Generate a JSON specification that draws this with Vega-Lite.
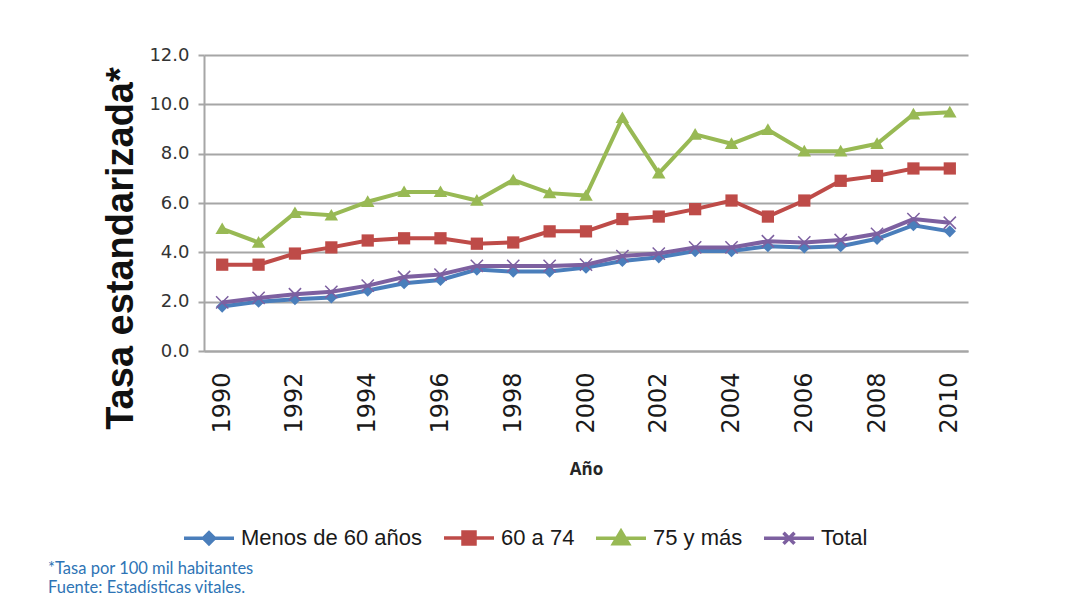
{
  "$schema": "https://vega.github.io/schema/vega-lite/v6.json",
  "autosize": "none",
  "padding": {"left": 204, "top": 55, "right": 111, "bottom": 249},
  "width": 764,
  "height": 296,
  "background": "white",
  "config": {"view": {"stroke": null}},
  "title": {
    "text": ["*Tasa por 100 mil habitantes", "Fuente: Estadísticas vitales."],
    "orient": "bottom",
    "anchor": "start",
    "frame": "group",
    "dx": -156,
    "offset": 10,
    "font": "Lato",
    "fontSize": 16.5,
    "fontWeight": "normal",
    "color": "#2E74B5",
    "lineHeight": 19
  },
  "data": {
    "values": [
      {"year": 1990, "series": "Menos de 60 años", "value": 1.8},
      {"year": 1991, "series": "Menos de 60 años", "value": 2.0},
      {"year": 1992, "series": "Menos de 60 años", "value": 2.1},
      {"year": 1993, "series": "Menos de 60 años", "value": 2.17},
      {"year": 1994, "series": "Menos de 60 años", "value": 2.45},
      {"year": 1995, "series": "Menos de 60 años", "value": 2.75},
      {"year": 1996, "series": "Menos de 60 años", "value": 2.88},
      {"year": 1997, "series": "Menos de 60 años", "value": 3.3},
      {"year": 1998, "series": "Menos de 60 años", "value": 3.22},
      {"year": 1999, "series": "Menos de 60 años", "value": 3.22},
      {"year": 2000, "series": "Menos de 60 años", "value": 3.38},
      {"year": 2001, "series": "Menos de 60 años", "value": 3.65},
      {"year": 2002, "series": "Menos de 60 años", "value": 3.8},
      {"year": 2003, "series": "Menos de 60 años", "value": 4.05},
      {"year": 2004, "series": "Menos de 60 años", "value": 4.05},
      {"year": 2005, "series": "Menos de 60 años", "value": 4.25},
      {"year": 2006, "series": "Menos de 60 años", "value": 4.2},
      {"year": 2007, "series": "Menos de 60 años", "value": 4.25},
      {"year": 2008, "series": "Menos de 60 años", "value": 4.55},
      {"year": 2009, "series": "Menos de 60 años", "value": 5.1},
      {"year": 2010, "series": "Menos de 60 años", "value": 4.85},
      {"year": 1990, "series": "60 a 74", "value": 3.5},
      {"year": 1991, "series": "60 a 74", "value": 3.5},
      {"year": 1992, "series": "60 a 74", "value": 3.95},
      {"year": 1993, "series": "60 a 74", "value": 4.2},
      {"year": 1994, "series": "60 a 74", "value": 4.48},
      {"year": 1995, "series": "60 a 74", "value": 4.57},
      {"year": 1996, "series": "60 a 74", "value": 4.57},
      {"year": 1997, "series": "60 a 74", "value": 4.35},
      {"year": 1998, "series": "60 a 74", "value": 4.4},
      {"year": 1999, "series": "60 a 74", "value": 4.85},
      {"year": 2000, "series": "60 a 74", "value": 4.85},
      {"year": 2001, "series": "60 a 74", "value": 5.35},
      {"year": 2002, "series": "60 a 74", "value": 5.45},
      {"year": 2003, "series": "60 a 74", "value": 5.75},
      {"year": 2004, "series": "60 a 74", "value": 6.1},
      {"year": 2005, "series": "60 a 74", "value": 5.45},
      {"year": 2006, "series": "60 a 74", "value": 6.1},
      {"year": 2007, "series": "60 a 74", "value": 6.9},
      {"year": 2008, "series": "60 a 74", "value": 7.1},
      {"year": 2009, "series": "60 a 74", "value": 7.4},
      {"year": 2010, "series": "60 a 74", "value": 7.4},
      {"year": 1990, "series": "75 y más", "value": 4.95},
      {"year": 1991, "series": "75 y más", "value": 4.4},
      {"year": 1992, "series": "75 y más", "value": 5.6},
      {"year": 1993, "series": "75 y más", "value": 5.5},
      {"year": 1994, "series": "75 y más", "value": 6.05},
      {"year": 1995, "series": "75 y más", "value": 6.45},
      {"year": 1996, "series": "75 y más", "value": 6.45},
      {"year": 1997, "series": "75 y más", "value": 6.1},
      {"year": 1998, "series": "75 y más", "value": 6.93},
      {"year": 1999, "series": "75 y más", "value": 6.4},
      {"year": 2000, "series": "75 y más", "value": 6.3},
      {"year": 2001, "series": "75 y más", "value": 9.45},
      {"year": 2002, "series": "75 y más", "value": 7.2},
      {"year": 2003, "series": "75 y más", "value": 8.78},
      {"year": 2004, "series": "75 y más", "value": 8.4},
      {"year": 2005, "series": "75 y más", "value": 8.97},
      {"year": 2006, "series": "75 y más", "value": 8.1},
      {"year": 2007, "series": "75 y más", "value": 8.1},
      {"year": 2008, "series": "75 y más", "value": 8.4},
      {"year": 2009, "series": "75 y más", "value": 9.6},
      {"year": 2010, "series": "75 y más", "value": 9.68},
      {"year": 1990, "series": "Total", "value": 1.97},
      {"year": 1991, "series": "Total", "value": 2.15},
      {"year": 1992, "series": "Total", "value": 2.3},
      {"year": 1993, "series": "Total", "value": 2.4},
      {"year": 1994, "series": "Total", "value": 2.65},
      {"year": 1995, "series": "Total", "value": 3.0},
      {"year": 1996, "series": "Total", "value": 3.1},
      {"year": 1997, "series": "Total", "value": 3.45},
      {"year": 1998, "series": "Total", "value": 3.45},
      {"year": 1999, "series": "Total", "value": 3.45},
      {"year": 2000, "series": "Total", "value": 3.5},
      {"year": 2001, "series": "Total", "value": 3.85},
      {"year": 2002, "series": "Total", "value": 3.95},
      {"year": 2003, "series": "Total", "value": 4.2},
      {"year": 2004, "series": "Total", "value": 4.2},
      {"year": 2005, "series": "Total", "value": 4.45},
      {"year": 2006, "series": "Total", "value": 4.4},
      {"year": 2007, "series": "Total", "value": 4.5},
      {"year": 2008, "series": "Total", "value": 4.75},
      {"year": 2009, "series": "Total", "value": 5.35},
      {"year": 2010, "series": "Total", "value": 5.2}
    ]
  },
  "encoding": {
    "x": {
      "field": "year",
      "type": "ordinal",
      "scale": {"type": "point", "padding": 0.5},
      "axis": {
        "title": "Año",
        "titleFont": "Open Sans",
        "titleFontSize": 17,
        "titleFontWeight": "bold",
        "titleColor": "#262626",
        "titleY": 118,
        "titleBaseline": "middle",
        "values": [1990, 1992, 1994, 1996, 1998, 2000, 2002, 2004, 2006, 2008, 2010],
        "labelAngle": -90,
        "labelFont": "DejaVu Sans",
        "labelFontSize": 24,
        "labelColor": "#1a1a1a",
        "labelPadding": 21,
        "ticks": false,
        "grid": false,
        "domainColor": "#a6a6a6",
        "domainWidth": 2
      }
    },
    "y": {
      "field": "value",
      "type": "quantitative",
      "scale": {"domain": [0, 12], "nice": false},
      "axis": {
        "title": "Tasa estandarizada*",
        "titleFont": "Liberation Sans",
        "titleFontSize": 38,
        "titleFontWeight": "bold",
        "titleColor": "#111111",
        "titleAngle": -90,
        "titleX": -72,
        "titleY": 193,
        "titleBaseline": "alphabetic",
        "titleAlign": "center",
        "values": [0, 2, 4, 6, 8, 10, 12],
        "format": ".1f",
        "labelFont": "DejaVu Sans",
        "labelFontSize": 18,
        "labelColor": "#333333",
        "labelPadding": 9,
        "tickSize": 6,
        "tickColor": "#a6a6a6",
        "tickWidth": 2,
        "gridColor": "#a6a6a6",
        "gridWidth": 2,
        "domainColor": "#a6a6a6",
        "domainWidth": 2
      }
    },
    "color": {
      "field": "series",
      "type": "nominal",
      "sort": ["Menos de 60 años", "60 a 74", "75 y más", "Total"],
      "scale": {
        "domain": ["Menos de 60 años", "60 a 74", "75 y más", "Total"],
        "range": ["#4A7EBB", "#BE4B48", "#98B954", "#7D60A0"]
      },
      "legend": {
        "title": null,
        "orient": "none",
        "direction": "horizontal",
        "columns": 4,
        "legendX": -22,
        "legendY": 456,
        "padding": 0,
        "symbolSize": 2500,
        "symbolStrokeWidth": 3.5,
        "labelFont": "Liberation Sans",
        "labelFontSize": 22,
        "labelColor": "#1a1a1a",
        "labelOffset": 5,
        "labelLimit": 300,
        "columnPadding": 14
      }
    }
  },
  "layer": [
    {
      "transform": [{"filter": "datum.series !== 'Total'"}],
      "mark": {"type": "line", "strokeWidth": 4}
    },
    {
      "transform": [{"filter": "datum.series === 'Menos de 60 años'"}],
      "mark": {"type": "point", "filled": true, "size": 150, "opacity": 1, "shape": "M-1,0L0,-1L1,0L0,1Z"}
    },
    {
      "transform": [{"filter": "datum.series === '60 a 74'"}],
      "mark": {"type": "point", "filled": true, "size": 150, "opacity": 1, "shape": "M-1,-1L1,-1L1,1L-1,1Z"}
    },
    {
      "transform": [{"filter": "datum.series === '75 y más'"}],
      "mark": {"type": "point", "filled": true, "size": 150, "opacity": 1, "shape": "M0,-1.05L1.1,0.85L-1.1,0.85Z"}
    },
    {
      "transform": [{"filter": "datum.series === 'Total'"}],
      "mark": {"type": "line", "strokeWidth": 4}
    },
    {
      "transform": [{"filter": "datum.series === 'Total'"}],
      "mark": {"type": "point", "filled": false, "size": 150, "opacity": 1, "strokeWidth": 1.5, "shape": "M-1,-1L1,1M-1,1L1,-1"}
    },
    {
      "transform": [{"filter": "datum.year < 0"}],
      "mark": {"type": "point", "filled": true, "opacity": 1, "strokeWidth": 3.5},
      "encoding": {
        "shape": {
          "field": "series",
          "type": "nominal",
          "scale": {
            "domain": ["Menos de 60 años", "60 a 74", "75 y más", "Total"],
            "range": [
              "M-1,0L1,0M-0.22,0L0,-0.22L0.22,0L0,0.22Z",
              "M-1,0L1,0M-0.24,-0.24L0.24,-0.24L0.24,0.24L-0.24,0.24Z",
              "M-1,0L1,0M0,-0.28L0.3,0.22L-0.3,0.22Z",
              "M-1,0L1,0M-0.22,-0.22L0.22,0.22M-0.22,0.22L0.22,-0.22"
            ]
          },
          "legend": null
        },
        "stroke": {
          "field": "series",
          "type": "nominal",
          "scale": {
            "domain": ["Menos de 60 años", "60 a 74", "75 y más", "Total"],
            "range": ["#4A7EBB", "#BE4B48", "#98B954", "#7D60A0"]
          },
          "legend": null
        }
      }
    }
  ]
}
